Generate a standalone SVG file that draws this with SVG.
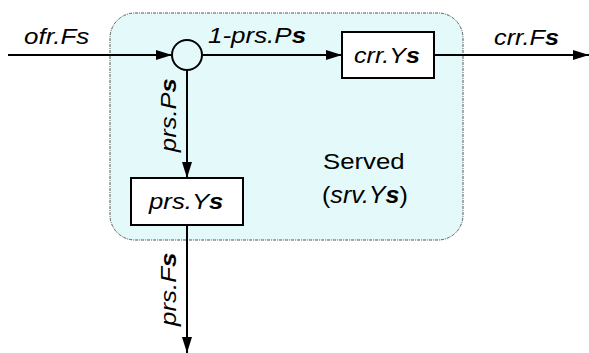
<svg xmlns="http://www.w3.org/2000/svg" width="589" height="353" viewBox="0 0 589 353">
<style>
.t{font-family:"Liberation Sans",Arial,sans-serif;font-style:italic;font-size:22px;fill:#000}
.n{font-family:"Liberation Sans",Arial,sans-serif;font-size:23px;fill:#000}
.b{font-weight:bold}
.ln{stroke:#000;stroke-width:2;fill:none}
.box{fill:#fff;stroke:#000;stroke-width:2}
</style>
<defs>
<marker id="ah" viewBox="0 0 16 10" refX="16" refY="5" markerWidth="16" markerHeight="10" markerUnits="userSpaceOnUse" orient="auto">
<path d="M0,0 L16,5 L0,10 Z" fill="#000"/>
</marker>
</defs>
<g id="served">
<rect x="110" y="13" width="353" height="227" rx="25" ry="25" fill="#e4fafa" stroke="#555" stroke-width="1" stroke-dasharray="3,1,1,1"/>
<text class="n" transform="translate(323,169) scale(1.12,1)">Served</text>
<text class="n" transform="translate(322,203) scale(1.09,1)">(<tspan font-style="italic">srv.Y<tspan class="b">s</tspan></tspan>)</text>
</g>
<g id="connectors">
<line class="ln" x1="8" y1="55" x2="172" y2="55" marker-end="url(#ah)"/>
<line class="ln" x1="202" y1="55" x2="342" y2="55" marker-end="url(#ah)"/>
<line class="ln" x1="434" y1="55" x2="589" y2="55" marker-end="url(#ah)"/>
<line class="ln" x1="187" y1="70" x2="187" y2="178" marker-end="url(#ah)"/>
<line class="ln" x1="187" y1="225" x2="187" y2="353" marker-end="url(#ah)"/>
<text class="t" transform="translate(24,44) scale(1.18,1)">ofr.Fs</text>
<text class="t" transform="translate(208,43) scale(1.18,1)">1-prs.P<tspan class="b">s</tspan></text>
<text class="t" transform="translate(494,45) scale(1.15,1)">crr.F<tspan class="b">s</tspan></text>
<text class="t" transform="translate(176,152) rotate(-90) scale(1.16,1)">prs.P<tspan class="b">s</tspan></text>
<text class="t" transform="translate(176,326) rotate(-90) scale(1.18,1)">prs.F<tspan class="b">s</tspan></text>
</g>
<g id="junction">
<circle cx="187" cy="55" r="15" fill="none" stroke="#000" stroke-width="2"/>
</g>
<g id="crr">
<rect class="box" x="342" y="32" width="92" height="46"/>
<text class="t" transform="translate(354,63) scale(1.14,1)">crr.Y<tspan class="b">s</tspan></text>
</g>
<g id="prs">
<rect class="box" x="131" y="178" width="112" height="47"/>
<text class="t" transform="translate(149,209) scale(1.17,1)">prs.Y<tspan class="b">s</tspan></text>
</g>
</svg>
